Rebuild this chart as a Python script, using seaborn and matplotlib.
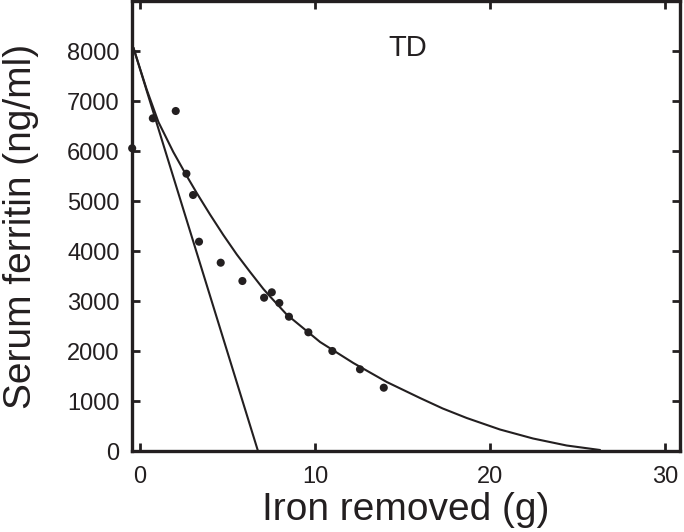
import matplotlib
matplotlib.use("Agg")
import matplotlib.pyplot as plt
import seaborn as sns

# measured points (iron removed g, serum ferritin ng/ml)
iron_removed = [-0.45, 0.73, 2.04, 2.65, 3.03, 3.37, 4.61, 5.85, 7.09, 7.53,
                7.96, 8.51, 9.62, 10.99, 12.57, 13.93]
ferritin = [6054, 6654, 6800, 5546, 5120, 4186, 3766, 3400, 3066, 3174,
            2960, 2686, 2374, 2000, 1634, 1266]

# straight line (initial slope)
line_x = [-0.38, 6.74]
line_y = [8066, 0]

# fitted curve
curve_x = [-0.38, 0.38, 1.05, 1.90, 2.67, 3.24, 4.0, 4.76, 5.53, 6.29, 7.05,
           7.43, 8.38, 10.29, 12.19, 14.1, 16.0, 17.3, 18.67, 20.57, 22.46,
           24.38, 26.29]
curve_y = [8066, 7230, 6580, 5980, 5500, 5160, 4730, 4320, 3930, 3580, 3240,
           3090, 2730, 2180, 1760, 1380, 1060, 850, 660, 430, 250,
           110, 20]

x_ticks = [0, 10, 20, 30]
y_ticks = [0, 1000, 2000, 3000, 4000, 5000, 6000, 7000, 8000]

ink = "#231f20"

sns.set_style("ticks")
plt.rcParams["font.family"] = ["Liberation Sans", "DejaVu Sans"]

fig = plt.figure(figsize=(6.84, 5.32), dpi=100)
ax = fig.add_axes([132 / 684, 1 - 451 / 532, 548 / 684, 450 / 532])

sns.lineplot(x=line_x, y=line_y, ax=ax, color=ink, linewidth=1.5, estimator=None)
sns.lineplot(x=curve_x, y=curve_y, ax=ax, color=ink, linewidth=1.5, estimator=None, sort=False)
sns.scatterplot(x=iron_removed, y=ferritin, ax=ax, color=ink, s=34, edgecolor="none",
                zorder=5, clip_on=False)

ax.set_xlim(-0.46, 30.86)
ax.set_ylim(0, 9000)
ax.set_xticks(x_ticks)
ax.set_yticks(y_ticks)
ax.tick_params(direction="in", length=6, width=2, colors=ink, labelsize=17,
               top=True, right=True, pad=9)
ax.tick_params(axis="x", pad=11)
for s in ax.spines.values():
    s.set_linewidth(2.4)
    s.set_color(ink)

ax.set_xlabel("Iron removed (g)", fontsize=28, color=ink)
ax.set_ylabel("Serum ferritin (ng/ml)", fontsize=28, color=ink)
ax.xaxis.set_label_coords(0.5, -0.09)
ax.yaxis.set_label_coords(-0.17, 0.5)

ax.text(15.3, 8060, "TD", fontsize=21, color=ink, ha="center", va="center")

fig.savefig("out.png", dpi=100)
